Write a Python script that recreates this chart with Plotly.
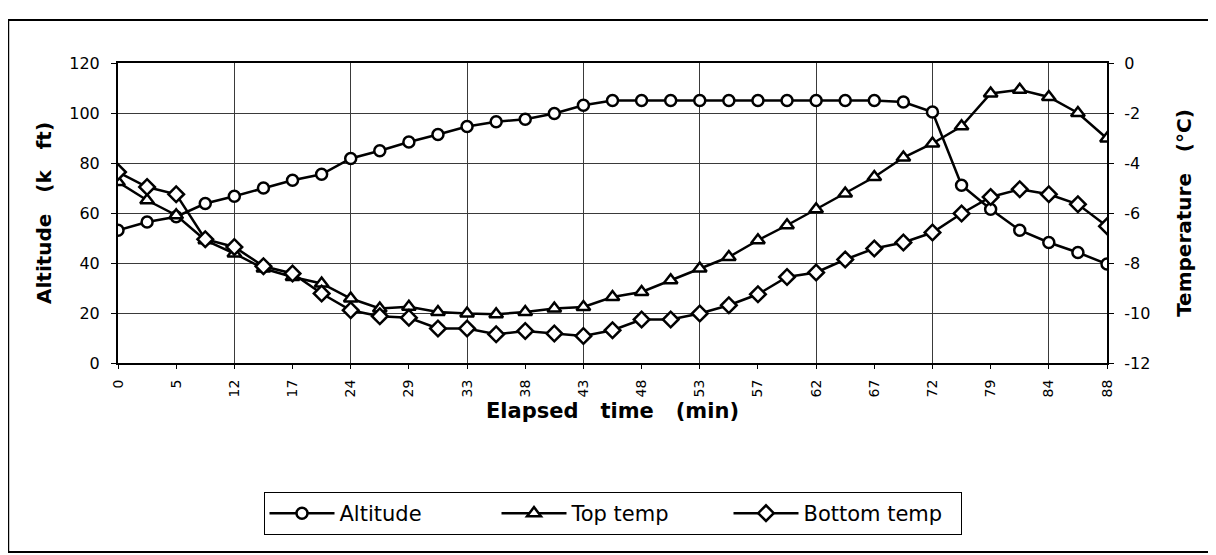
import plotly.graph_objects as go

# Elapsed time (min) for each sample (category axis; every other label shown)
times = [0, 2, 5, 9, 12, 14, 17, 21, 24, 26, 29, 31, 33, 36, 38, 41, 43, 45,
         48, 50, 53, 55, 57, 60, 62, 64, 67, 69, 72, 76, 79, 81, 84, 86, 88]

# Altitude (k ft)
altitude = [53.1, 56.4, 58.5, 63.8, 66.7, 70.0, 73.1, 75.5, 81.8, 84.9,
            88.4, 91.4, 94.6, 96.5, 97.5, 99.8, 103.1, 105.0, 105.0, 105.0,
            105.0, 105.0, 105.0, 105.0, 105.0, 105.0, 105.0, 104.4, 100.4, 71.1,
            61.5, 53.1, 48.2, 44.2, 39.6]

# Top temperature (deg C)
top_temp = [-4.76, -5.49, -6.09, -7.09, -7.62, -8.22, -8.56, -8.82, -9.42, -9.82,
            -9.75, -9.96, -10.02, -10.05, -9.96, -9.82, -9.76, -9.36, -9.16, -8.69,
            -8.22, -7.76, -7.09, -6.49, -5.85, -5.22, -4.56, -3.78, -3.22, -2.53,
            -1.22, -1.07, -1.36, -2.00, -3.02]

# Bottom temperature (deg C)
bottom_temp = [-4.36, -4.96, -5.25, -7.05, -7.36, -8.13, -8.42, -9.22, -9.89, -10.13,
               -10.19, -10.62, -10.62, -10.85, -10.72, -10.82, -10.92, -10.69, -10.26, -10.26,
               -10.02, -9.69, -9.25, -8.56, -8.38, -7.86, -7.42, -7.18, -6.78, -6.02,
               -5.36, -5.05, -5.25, -5.65, -6.53]

alt_ticks = [0, 20, 40, 60, 80, 100, 120]
temp_ticks = [-12, -10, -8, -6, -4, -2, 0]
temp_ticktext = ["-12", "-10", "-8", "-6", "-4", "-2", "0"]

idx = list(range(len(times)))
label_pos = idx[::2]
label_text = [str(t) for t in times[::2]]
grid_pos = idx[::4]

FONT = "DejaVu Sans"
LW = 2.5

def mk(symbol, size):
    return dict(symbol=symbol, size=size, color="white",
                line=dict(color="black", width=LW))

fig = go.Figure()
fig.add_trace(go.Scatter(x=idx, y=altitude, name="Altitude", mode="lines+markers",
                         line=dict(color="black", width=LW), marker=mk("circle", 11)))
fig.add_trace(go.Scatter(x=idx, y=top_temp, name="Top temp", mode="lines+markers",
                         yaxis="y2", line=dict(color="black", width=LW),
                         marker=mk("triangle-up", 12)))
fig.add_trace(go.Scatter(x=idx, y=bottom_temp, name="Bottom temp", mode="lines+markers",
                         yaxis="y2", line=dict(color="black", width=LW),
                         marker=mk("diamond", 12)))
# empty trace so the vertical-grid overlay axis is drawn
fig.add_trace(go.Scatter(x=[], y=[], xaxis="x2", showlegend=False, hoverinfo="skip"))

title_font = dict(family=FONT, size=20, color="black", weight="bold")
NB = "\u00a0"
G = NB * 3

fig.update_layout(
    width=1208, height=547,
    paper_bgcolor="white", plot_bgcolor="white",
    margin=dict(l=110, r=109, t=55, b=192, autoexpand=False),
    font=dict(family=FONT, color="black"),
    xaxis=dict(range=[0, len(times) - 1], tickmode="array", tickvals=label_pos,
               ticktext=label_text, tickangle=-90, tickfont=dict(size=14),
               showgrid=False, zeroline=False, showline=True, mirror=True,
               linecolor="black", linewidth=2, ticks="outside", ticklen=4,
               tickcolor="black", ticklabelstandoff=5,
               title=dict(text=f"Elapsed{G}time{G}(min)",
                          font=dict(family=FONT, size=21, color="black", weight="bold"),
                          standoff=7)),
    xaxis2=dict(overlaying="x", anchor="y", range=[0, len(times) - 1], tickmode="array",
                tickvals=grid_pos, showticklabels=False, showgrid=True,
                gridcolor="#3a3a3a", gridwidth=1, showline=False, ticks="", zeroline=False),
    yaxis=dict(range=[0, 120], tickmode="array", tickvals=alt_ticks, tickfont=dict(size=16),
               showgrid=True, gridcolor="#3a3a3a", gridwidth=1, zeroline=False,
               showline=True, linecolor="black", linewidth=2, ticks="outside",
               ticklen=5, tickcolor="black", ticklabelstandoff=8,
               title=dict(text=f"Altitude{G}(k{G}ft)", font=title_font, standoff=12)),
    yaxis2=dict(overlaying="y", side="right", range=[-12, 0], tickmode="array",
                tickvals=temp_ticks, ticktext=temp_ticktext, tickfont=dict(size=16),
                showgrid=False, zeroline=False, showline=True, linecolor="black",
                linewidth=2, ticks="outside", ticklen=5, tickcolor="black",
                ticklabelstandoff=7,
                title=dict(text=f"Temperature{G}(°C)", font=title_font, standoff=28)),
    legend=dict(orientation="h", x=0.5, xanchor="center", y=-0.43, yanchor="top",
                bordercolor="black", borderwidth=1, bgcolor="white",
                font=dict(family=FONT, size=21, color="black"),
                entrywidth=152, itemwidth=65),
    showlegend=True,
    shapes=[dict(type="rect", xref="paper", yref="paper",
                 x0=-0.111, x1=1.107, y0=-0.63, y1=1.143,
                 line=dict(color="black", width=2), layer="below")],
)

fig.write_html("out.html")
